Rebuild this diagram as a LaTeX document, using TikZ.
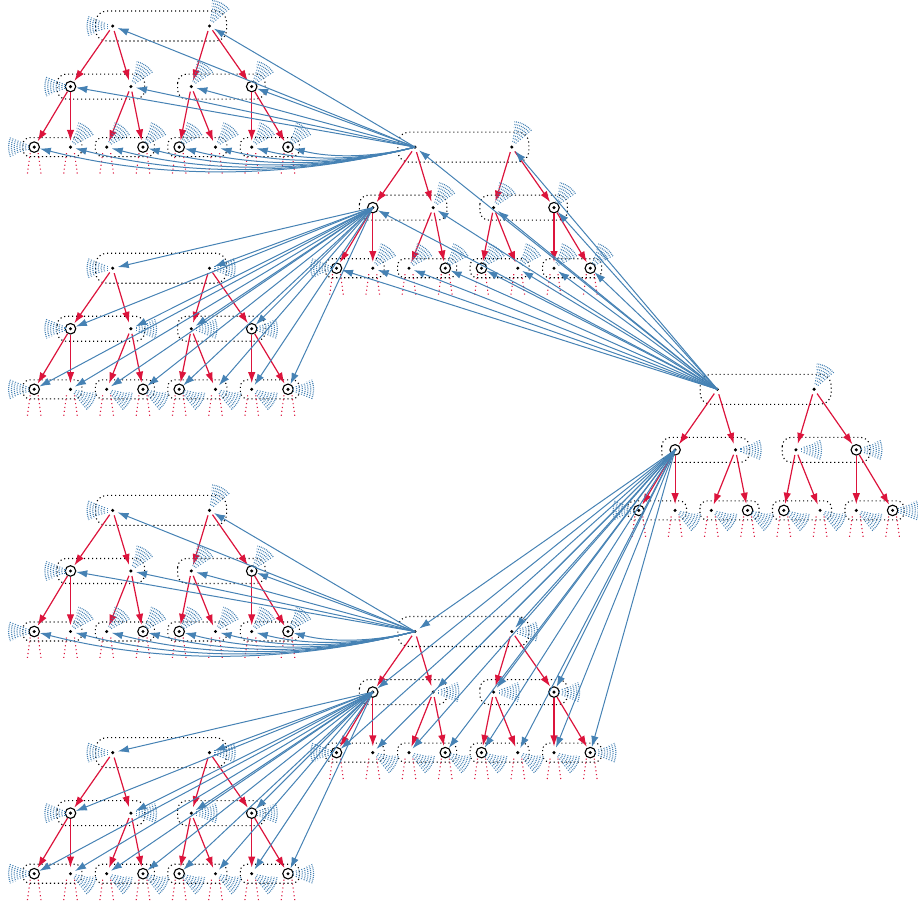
\documentclass[tikz,border=0pt]{standalone}
\usetikzlibrary{arrows.meta,calc}
\definecolor{sblue}{RGB}{70,130,180}
\definecolor{cred}{RGB}{220,20,60}
\tikzset{
  dotnode/.style={circle,inner sep=0pt,minimum size=10pt,
    path picture={\fill[black] (path picture bounding box.center) circle (1.7pt);}},
  ringnode/.style={circle,draw=black,line width=1.1pt,inner sep=0pt,minimum size=10.5pt,
    path picture={\fill[black] (path picture bounding box.center) circle (1.7pt);}},
  pairbox/.style={draw=black,line width=1.1pt,dash pattern=on 1.1pt off 2.9pt},
  redarrow/.style={draw=cred,line width=1.2pt,shorten >=1pt,-{Latex[length=11pt,width=7.5pt]}},
  bluearrow/.style={draw=sblue,line width=1pt,-{Latex[length=11pt,width=7.5pt]}},
  redleg/.style={draw=cred,line width=1.1pt,dash pattern=on 1.1pt off 2.8pt},
  wave/.style={draw=sblue,line width=1.2pt,dash pattern=on 0.9pt off 1pt},
}
\newcommand\drawtree[3]{%
  \pgfmathsetmacro\tcx{#2+48.4}%
  \pgfmathsetmacro\tya{#3+60.55}%
  \pgfmathsetmacro\tyb{#3+121.1}%
  \draw[pairbox,rounded corners=11pt] (\tcx-65.5,#3-15) rectangle (\tcx+65.5,#3+15);
  \draw[pairbox,rounded corners=9pt] (\tcx-104,\tya-12.5) rectangle (\tcx-16.5,\tya+12.5);
  \draw[pairbox,rounded corners=9pt] (\tcx+16.5,\tya-12.5) rectangle (\tcx+104,\tya+12.5);
  \foreach \m in {-108.75,-36.25,36.25,108.75}
    \draw[pairbox,rounded corners=7pt] (\tcx+\m-29.5,\tyb-9.5) rectangle (\tcx+\m+29.5,\tyb+9.5);
  \node[dotnode] (#1-r1) at (\tcx-48.4,#3) {};
  \node[dotnode] (#1-r2) at (\tcx+48.4,#3) {};
  \node[ringnode] (#1-a1) at (\tcx-90.6,\tya) {};
  \node[dotnode] (#1-a2) at (\tcx-30.2,\tya) {};
  \node[dotnode] (#1-a3) at (\tcx+30.2,\tya) {};
  \node[ringnode] (#1-a4) at (\tcx+90.6,\tya) {};
  \foreach \k/\o/\s in {1/-126.9/ringnode,2/-90.6/dotnode,3/-54.4/dotnode,4/-18.1/ringnode,
                        5/18.1/ringnode,6/54.4/dotnode,7/90.6/dotnode,8/126.9/ringnode}
    \node[\s] (#1-b\k) at (\tcx+\o,\tyb) {};
  \foreach \p/\c in {r1/a1,r1/a2,r2/a3,r2/a4,a1/b1,a1/b2,a2/b3,a2/b4,a3/b5,a3/b6,a4/b7,a4/b8}
    \draw[redarrow] (#1-\p) -- (#1-\c);
  \foreach \k in {1,...,8}{
    \draw[redleg] ($(#1-b\k.center)+(-4,6)$) -- ++(-3,22);
    \draw[redleg] ($(#1-b\k.center)+(4,6)$) -- ++(3,22);
  }
}
\newcommand\wifi[2]{%
  \begin{scope}[shift={(#1.center)},yscale=-1]
    \foreach \r in {6,8.8,11.6,14.4,17.2,20,22.8,25.6}
      \draw[wave] (#2-22:\r) arc[start angle=#2-22,end angle=#2+22,radius=\r];
  \end{scope}}
\begin{document}
\begin{tikzpicture}[x=1pt,y=-1pt]
\useasboundingbox (0,0) rectangle (918,903);
\drawtree{A}{112.7}{26}
\drawtree{B}{415}{147.1}
\drawtree{C}{112.7}{268.2}
\drawtree{D}{717.3}{389.3}
\drawtree{E}{112.7}{510.4}
\drawtree{F}{415}{631.5}
\drawtree{G}{112.7}{752.6}
% signal waves
\foreach \t in {A,E}{\wifi{\t-r1}{180}\wifi{\t-a1}{180}}
\foreach \t in {A,E,B}{%
  \wifi{\t-r2}{62}\wifi{\t-a2}{55}\wifi{\t-a3}{55}\wifi{\t-a4}{55}\wifi{\t-b1}{180}
  \foreach \k in {2,...,8}{\wifi{\t-b\k}{50}}}
\foreach \t in {C,G}{\wifi{\t-r1}{180}\wifi{\t-a1}{180}\wifi{\t-r2}{0}}
\wifi{F-r2}{0}
\wifi{D-r2}{62}
\foreach \t in {C,G,F,D}{%
  \wifi{\t-a2}{0}\wifi{\t-a3}{0}\wifi{\t-a4}{0}\wifi{\t-b1}{180}\wifi{\t-b8}{0}
  \foreach \k in {2,...,7}{\wifi{\t-b\k}{-30}}}
% blue connectors
\foreach \n in {r1,r2,a1,a2,a3,a4}{
  \draw[bluearrow] (B-r1.center) -- (A-\n);
  \draw[bluearrow] (F-r1.center) -- (E-\n);
}
\foreach \k/\o in {1/-126.9,2/-90.6,3/-54.4,4/-18.1,5/18.1,6/54.4,7/90.6,8/126.9}{
  \pgfmathsetmacro\dd{0.085*(253.9-\o)}
  \draw[bluearrow] (B-r1.center) .. controls ($(B-r1.center)!0.333!(A-b\k.center)+(0,\dd)$) and ($(B-r1.center)!0.667!(A-b\k.center)+(0,\dd)$) .. (A-b\k);
  \draw[bluearrow] (F-r1.center) .. controls ($(F-r1.center)!0.333!(E-b\k.center)+(0,\dd)$) and ($(F-r1.center)!0.667!(E-b\k.center)+(0,\dd)$) .. (E-b\k);
}
\foreach \n in {r1,r2,a1,a2,a3,a4,b1,b2,b3,b4,b5,b6,b7,b8}{
  \draw[bluearrow] (B-a1.center) -- (C-\n);
  \draw[bluearrow] (D-r1.center) -- (B-\n);
  \draw[bluearrow] (D-a1.center) -- (F-\n);
  \draw[bluearrow] (F-a1.center) -- (G-\n);
}
\end{tikzpicture}
\end{document}
